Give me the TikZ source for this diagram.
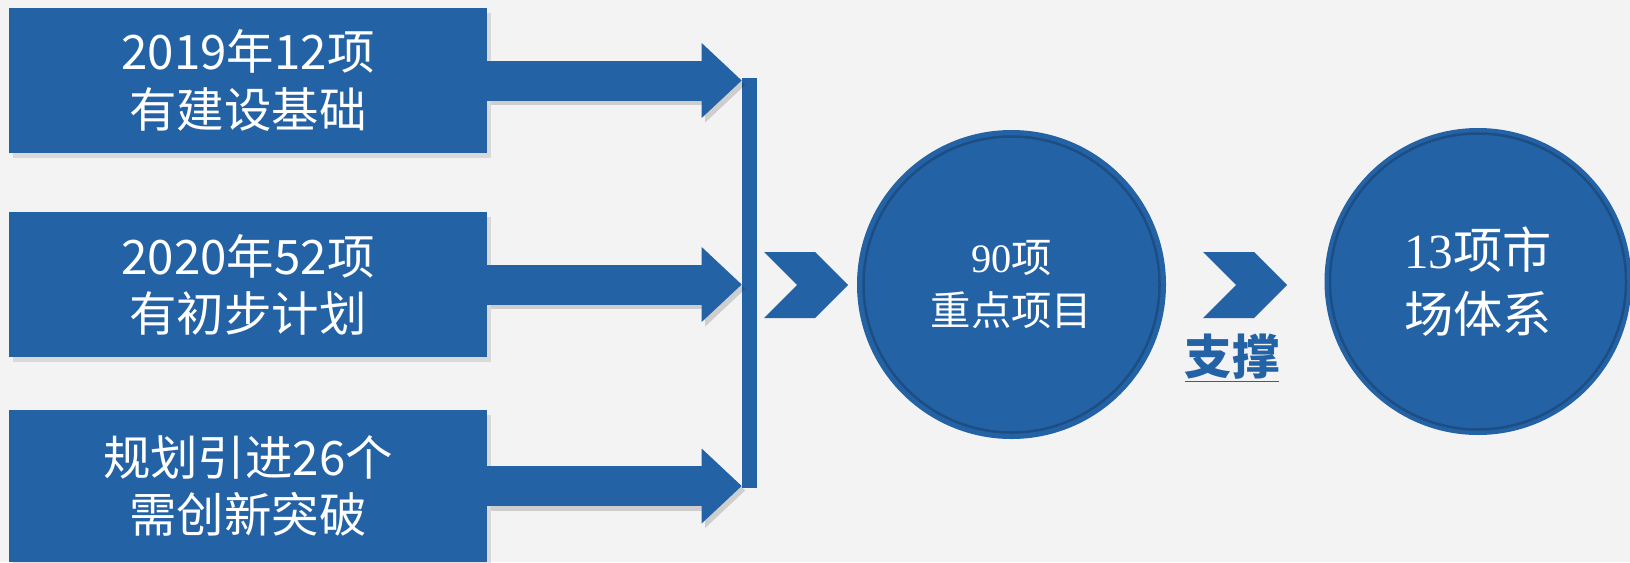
\documentclass[tikz,border=0pt]{standalone}
\usepackage{fontspec}
\setmainfont{Liberation Sans}
\newfontfamily\cjk{Noto Sans CJK SC}
\newfontfamily\tnr{Liberation Serif}
\usetikzlibrary{arrows.meta,shapes.symbols,shadows,positioning}
\definecolor{mainblue}{HTML}{2462A6}
\definecolor{pagegray}{HTML}{F3F3F3}
\tikzset{
  box/.style={fill=mainblue, minimum width=95.6mm, minimum height=29mm, inner sep=0pt,
    align=center, text=white, font=\cjk\fontsize{27}{32.5}\selectfont,
    drop shadow={shadow xshift=0.8mm, shadow yshift=-0.9mm, opacity=0.22}},
  feed/.style={draw=mainblue, line width=8mm,
    -{Triangle[width=15mm, length=8mm, line width=0pt]}},
  feedshadow/.style={feed, draw=black, opacity=0.15,
    transform canvas={shift={(0.7mm,-0.9mm)}}},
  chev/.style={signal, signal to=east, signal from=west, fill=mainblue,
    minimum width=16.8mm, minimum height=13.2mm, inner sep=0pt},
  circ/.style={circle, fill=mainblue, draw=mainblue, line width=0.4mm, inner sep=0pt,
    align=center, text=white,
    path picture={\draw[mainblue!55!black, opacity=0.45, line width=0.5mm]
      (path picture bounding box.center) circle[radius=29.6mm];}}
}
\begin{document}
\begin{tikzpicture}[x=0.2mm, y=-0.2mm]
    \useasboundingbox (0,0) rectangle (1630,562);
    \fill[pagegray] (0,0) rectangle (1630,562);
    % three sources
    \node[box] (b1) at (248,80.5) {2019年12项\\有建设基础};
    \node[box] (b2) at (248,284.5) {2020年52项\\有初步计划};
    \node[box, minimum height=30.4mm] (b3) at (248,486) {规划引进26个\\需创新突破};
    \node[fill=mainblue, minimum width=3mm, minimum height=82mm, inner sep=0pt]
      (bar) at (749.5,283) {};
    \foreach \b in {b1,b2,b3}
    {
      \draw[feedshadow] (\b.east) -- (\b.east -| bar.west);
      \draw[feed] (\b.east) -- (\b.east -| bar.west);
    }
    % result
    \node[chev] (ch1) at (806,285) {};
    \node[circ, minimum size=61.4mm, font=\cjk\fontsize{23}{30}\selectfont]
      (c1) at (1011.5,284.5) {{\tnr 90}项\\重点项目};
    \node[chev] (ch2) at (1245,285) {};
    \node[text=mainblue, font=\cjk\bfseries\fontsize{27}{27}\selectfont, inner sep=0pt]
      (prop) at (1232,358) {\underline{支撑}};
    \node[circ, minimum size=61mm, font=\cjk\fontsize{28}{36}\selectfont]
      (c2) at (1478,281.5) {{\tnr 13}项市\\场体系};
\end{tikzpicture}
\end{document}
